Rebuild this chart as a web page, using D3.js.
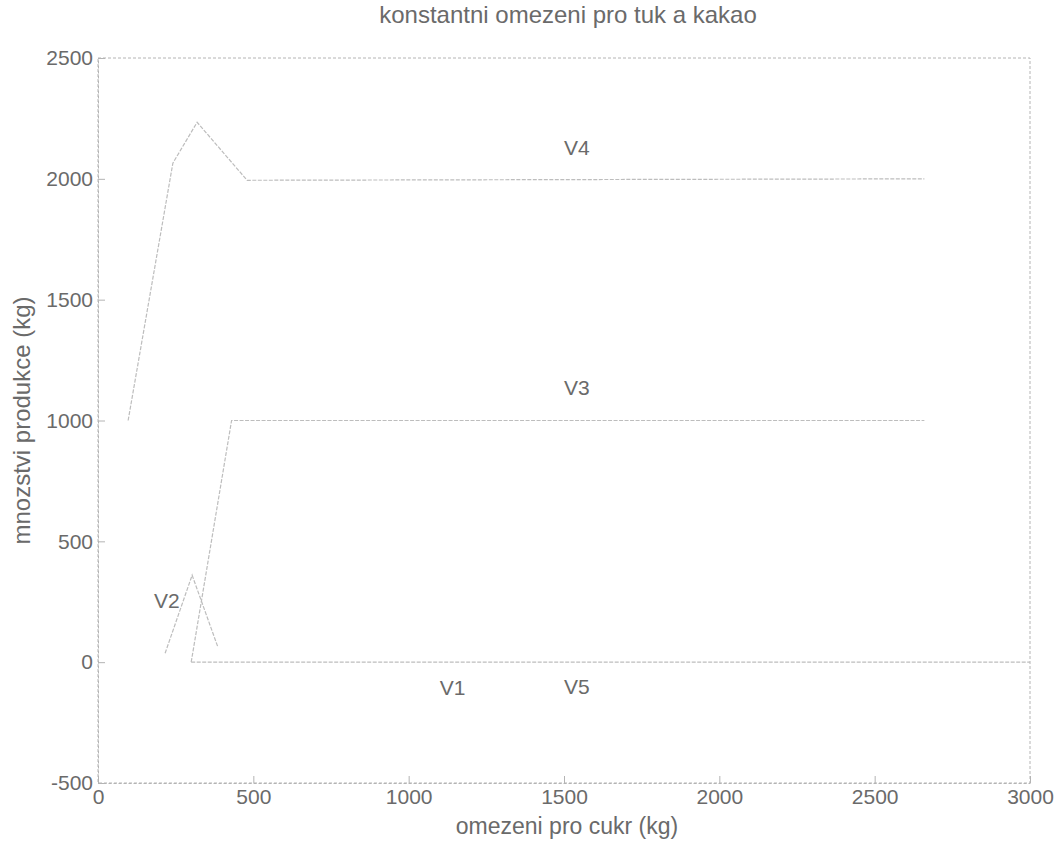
<!DOCTYPE html>
<html>
<head>
<meta charset="utf-8">
<script src="https://d3js.org/d3.v7.min.js"></script>
<style>
body { margin: 0; background: #fff; }
text { font-family: "Liberation Sans", Arial, sans-serif; fill: #6a6a6a; }
</style>
</head>
<body>
<script>
// data
var xTicks = [0, 500, 1000, 1500, 2000, 2500, 3000];
var yTicks = [-500, 0, 500, 1000, 1500, 2000, 2500];

var lineV1 = [[300, 0], [3000, 0]];
var lineV2 = [[216, 37], [303, 360], [386, 62]];
var lineV3 = [[300, 0], [430, 1000], [2660, 1000]];
var lineV4 = [[97, 1000], [241, 2065], [319, 2234], [480, 1994], [2660, 2000]];

var labelNames = ["V1", "V2", "V3", "V4", "V5"];
var labelX = [1100, 180, 1500, 1500, 1500];
var labelY = [-105, 255, 1135, 2130, -100];

var w = 1064;
var h = 866;
var margin = {left: 98, right: 34, top: 58, bottom: 83};

var x = d3.scaleLinear()
    .domain([0, 3000])
    .range([margin.left, w - margin.right]);

var y = d3.scaleLinear()
    .domain([-500, 2500])
    .range([h - margin.bottom, margin.top]);

var svg = d3.select("body")
    .append("svg")
    .attr("width", w)
    .attr("height", h);

var axisColor = "#b4b4b4";

// box like matlab
svg.append("rect")
    .attr("x", margin.left)
    .attr("y", margin.top)
    .attr("width", w - margin.left - margin.right)
    .attr("height", h - margin.top - margin.bottom)
    .attr("fill", "none")
    .attr("stroke", axisColor)
    .attr("stroke-dasharray", "3,2");

var fmt = function(d) { return String(d); };

svg.append("g")
    .attr("transform", "translate(0," + (h - margin.bottom) + ")")
    .call(d3.axisBottom(x).tickValues(xTicks).tickFormat(fmt).tickSizeInner(-7).tickSizeOuter(0).tickPadding(6));

svg.append("g")
    .attr("transform", "translate(" + margin.left + ",0)")
    .call(d3.axisLeft(y).tickValues(yTicks).tickFormat(fmt).tickSizeInner(-7).tickSizeOuter(0).tickPadding(5));

svg.selectAll(".domain").attr("stroke", axisColor).attr("stroke-dasharray", "3,2");
svg.selectAll(".tick line").attr("stroke", axisColor);
svg.selectAll(".tick text")
    .style("font-size", "21px")
    .attr("fill", "#7a7a7a");

var line = d3.line()
    .x(function(d) { return x(d[0]); })
    .y(function(d) { return y(d[1]); });

svg.selectAll("path.series")
    .data([lineV1, lineV2, lineV3, lineV4])
    .enter()
    .append("path")
    .attr("class", "series")
    .attr("d", line)
    .attr("fill", "none")
    .attr("stroke", "#bdbdbd")
    .attr("stroke-width", 1.2)
    .attr("stroke-dasharray", "4,1.5");

svg.selectAll("text.lbl")
    .data(labelNames)
    .enter()
    .append("text")
    .attr("class", "lbl")
    .attr("x", function(d, i) { return x(labelX[i]); })
    .attr("y", function(d, i) { return y(labelY[i]); })
    .attr("dy", "0.35em")
    .style("font-size", "21px")
    .text(function(d) { return d; });

// title and axis labels
svg.append("text")
    .attr("x", 568)
    .attr("y", 23)
    .attr("text-anchor", "middle")
    .style("font-size", "24px")
    .text("konstantni omezeni pro tuk a kakao");

svg.append("text")
    .attr("x", 567)
    .attr("y", 834)
    .attr("text-anchor", "middle")
    .style("font-size", "23px")
    .text("omezeni pro cukr (kg)");

svg.append("text")
    .attr("transform", "translate(30," + y(1000) + ") rotate(-90)")
    .attr("text-anchor", "middle")
    .style("font-size", "24px")
    .text("mnozstvi produkce (kg)");
</script>
</body>
</html>
